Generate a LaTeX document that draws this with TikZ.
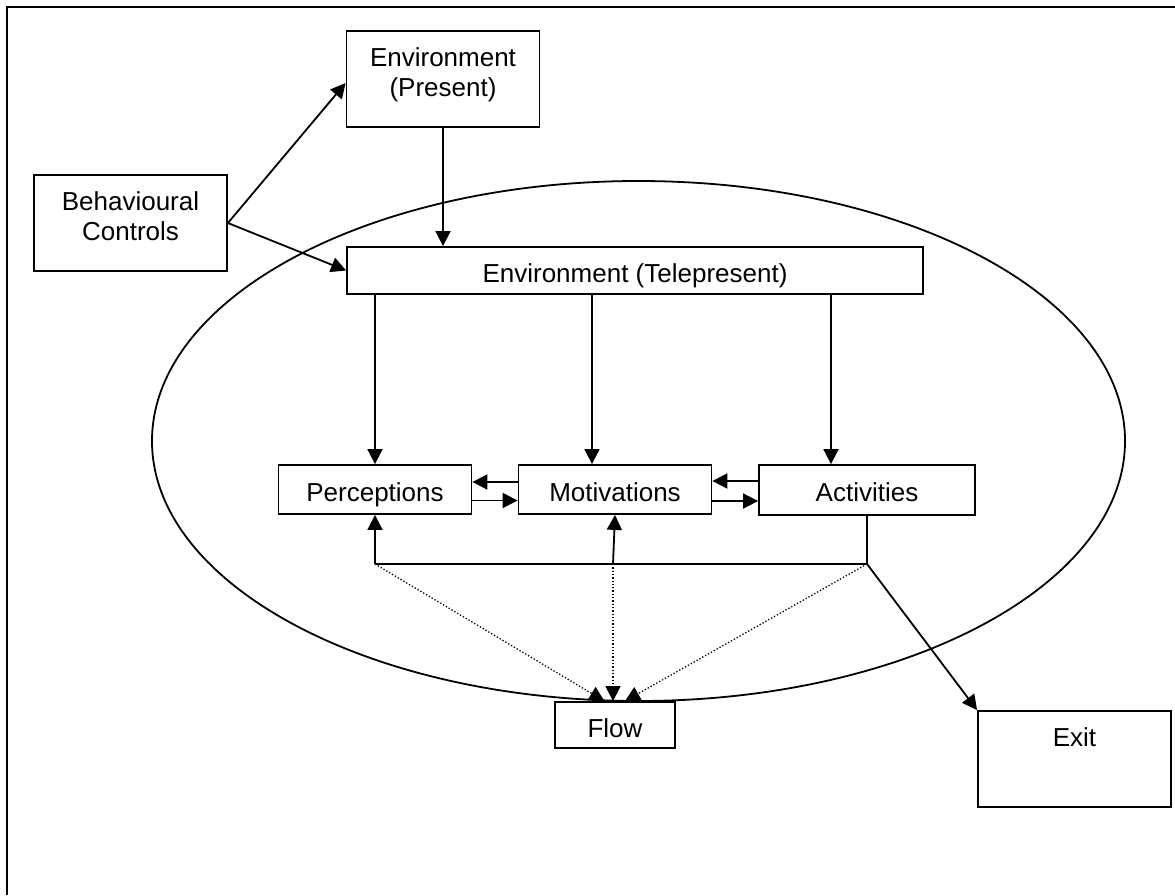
\documentclass[tikz,border=0pt]{standalone}
\usepackage{fontspec}
\setmainfont{Liberation Sans}
\usetikzlibrary{arrows.meta,calc}
\begin{document}
\begin{tikzpicture}[x=1pt,y=-1pt,
  box/.style={draw, line width=1.8pt, inner sep=0pt, font=\fontsize{26}{30}\selectfont, text height=23pt, text depth=0pt},
  txt/.style={inner sep=0pt, font=\fontsize{26}{30}\selectfont, align=center},
  conn/.style={line width=1.8pt},
  arr/.style={conn, -{Triangle[length=15pt,width=15pt]}},
  dotarr/.style={line width=1.3pt, dotted, -{Triangle[length=15pt,width=15pt]}}]
\useasboundingbox (0,0) rectangle (1175,895);
% frame
\draw[line width=2.2pt] (7,895) -- (7,7) -- (1175,7);
% oval
\draw[conn] (638.5,441) ellipse [x radius=486.5, y radius=260];
% boxes
\node[box, minimum width=193pt, minimum height=96pt] (envp) at (443,79) {};
\node[box, minimum width=193pt, minimum height=96pt] (beh) at (130.5,223) {};
\node[box, minimum width=576pt, minimum height=47pt] (envt) at (635,270.5) {Environment (Telepresent)};
\node[box, minimum width=193pt, minimum height=49pt] (perc) at (375,489.5) {Perceptions};
\node[box, minimum width=193pt, minimum height=49pt] (mot) at (615,489.5) {Motivations};
\node[box, minimum width=216pt, minimum height=50pt, text height=22pt] (act) at (867,490) {Activities};
\node[box, minimum width=120pt, minimum height=46pt, text height=24pt] (flow) at (615,725) {Flow};
\node[box, minimum width=193pt, minimum height=96pt] (exit) at (1074.5,759) {};
% texts of the tall boxes
\node[txt, anchor=north] (envpt) at ([yshift=-17pt]envp.north) {Environment\\(Present)};
\node[txt, anchor=north] (beht) at ([yshift=-17pt]beh.north) {Behavioural\\Controls};
\node[txt, anchor=north] (exitt) at ([yshift=-17pt]exit.north) {Exit};
% connectors
\draw[arr] (beh.east) -- ([yshift=-4pt]envp.west);
\draw[arr] (beh.east) -- (envt.west);
\draw[arr] (envp.south) -- (envp.south |- envt.north);
\draw[arr] (perc.north |- envt.south) -- (perc.north);
\draw[arr] ([xshift=-23pt]mot.north |- envt.south) -- ([xshift=-23pt]mot.north);
\draw[arr] ([xshift=-36pt]act.north |- envt.south) -- ([xshift=-36pt]act.north);
\draw[arr] ([yshift=7.5pt]mot.west) -- ([yshift=7.5pt]perc.east);
\draw[arr] ([yshift=-11pt]perc.east) -- ([yshift=-11pt]mot.west);
\draw[arr] ([yshift=9pt]act.west) -- ([yshift=8.5pt]mot.east);
\draw[arr] ([yshift=-11.5pt]mot.east) -- ([yshift=-11pt]act.west);
% feedback
\coordinate (fbL) at (375,564);
\coordinate (fbM) at (613,564);
\coordinate (fbR) at (867,564);
\draw[conn] (act.south) -- (fbR) -- (fbL);
\draw[arr] (fbL) -- (perc.south);
\draw[arr] (fbM) -- (mot.south);
\draw[arr] (fbR) -- (exit.north west);
\draw[dotarr] (fbL) -- ([xshift=-10.5pt]flow.north);
\draw[dotarr] (fbM) -- (fbM |- flow.north);
\draw[dotarr] (fbR) -- ([xshift=10pt]flow.north);
\end{tikzpicture}
\end{document}
